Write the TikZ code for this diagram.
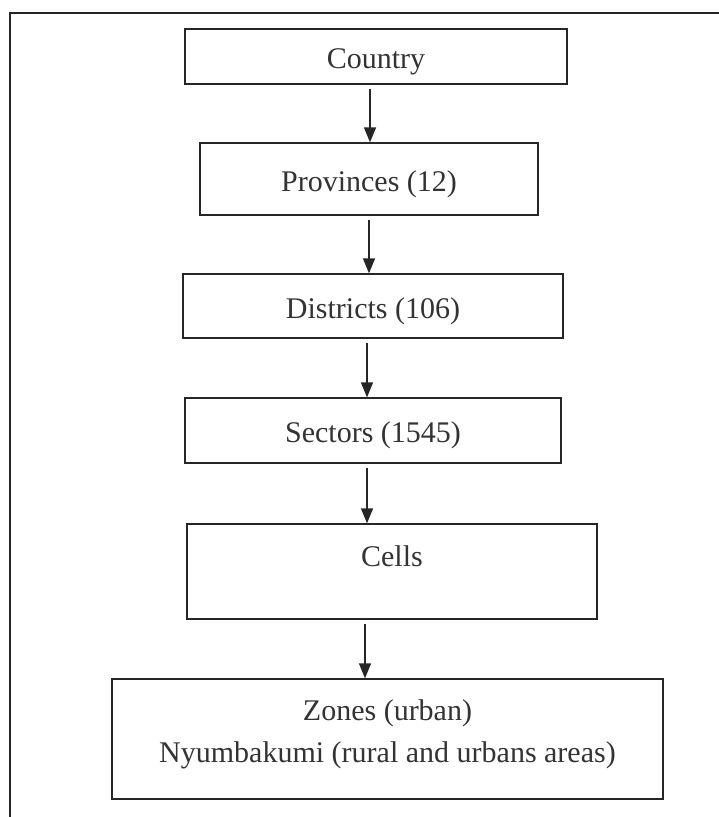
\documentclass[tikz,border=0pt]{standalone}
\usepackage{fontspec}
\setmainfont{Liberation Serif}
\usetikzlibrary{arrows.meta}
\begin{document}
\begin{tikzpicture}[x=1pt,y=-1pt,
  box/.style={draw=black!85,line width=1.3pt,rectangle,inner sep=0pt,
    font=\fontsize{30}{42}\selectfont,text=black!80},
  one/.style={text height=28pt,text depth=4pt},
  arr/.style={draw=black!85,line width=1.3pt,-{Triangle[length=15pt,width=12pt]}}]
\useasboundingbox (0,0) rectangle (719,817);
\draw[black!85,line width=1.3pt] (719,13) -- (10,13) -- (10,817);
\node[box,one,minimum width=382,minimum height=55] (country) at (376,56.5) {Country};
\node[box,one,minimum width=338,minimum height=72] (prov) at (369,179) {Provinces (12)};
\node[box,one,minimum width=380,minimum height=64] (dist) at (373,306) {Districts (106)};
\node[box,one,minimum width=376,minimum height=65] (sect) at (373,430.5) {Sectors (1545)};
\node[box,minimum width=410,minimum height=95,text height=42pt,text depth=53pt] (cells) at (392,571.5) {Cells};
\node[box,minimum width=551,minimum height=120,align=center,text height=65pt,text depth=19pt] (zones) at (387.5,739) {Zones (urban)\\Nyumbakumi (rural and urbans areas)};
\coordinate (a1) at (370,0);
\coordinate (a2) at (369,0);
\coordinate (a3) at (367,0);
\coordinate (a4) at (365,0);
\draw[arr] ([yshift=-4pt]country.south -| a1) -- (prov.north -| a1);
\draw[arr] ([yshift=-4pt]prov.south -| a2) -- (dist.north -| a2);
\draw[arr] ([yshift=-4pt]dist.south -| a3) -- (sect.north -| a3);
\draw[arr] ([yshift=-4pt]sect.south -| a3) -- (cells.north -| a3);
\draw[arr] ([yshift=-4pt]cells.south -| a4) -- (zones.north -| a4);
\end{tikzpicture}
\end{document}
